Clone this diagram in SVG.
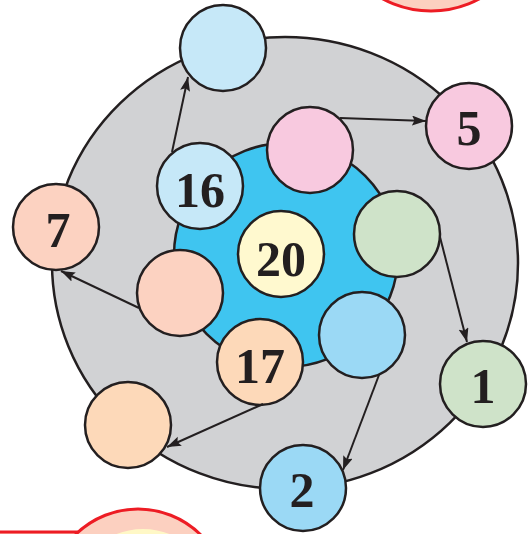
<svg xmlns="http://www.w3.org/2000/svg" width="530" height="534" viewBox="0 0 530 534">
<defs>
<marker id="ah" markerUnits="userSpaceOnUse" markerWidth="15" markerHeight="11" refX="14" refY="5" orient="auto">
<path d="M0,0 L14,5 L0,10 L2.5,5 z" fill="#231f20"/>
</marker>
</defs>
<style>
.n{stroke:#231f20;stroke-width:2.5}
.t{font-family:"Liberation Serif","Times New Roman",serif;font-weight:bold;font-size:50px;fill:#231f20;text-anchor:middle}
.c{stroke:#231f20;stroke-width:2;fill:none;marker-end:url(#ah)}
.r{fill:#fcd0c0;stroke:#ed1c24;stroke-width:3}
</style>
<rect width="530" height="534" fill="#ffffff"/>
<g id="decor">
<circle class="r" cx="431" cy="-91" r="102"/>
<rect class="r" x="-10" y="532" width="200" height="20"/>
<circle class="r" cx="138" cy="598" r="89"/>
<circle cx="143" cy="601" r="72" fill="#fff8c6"/>
</g>
<g id="outer-ring"><ellipse class="n" cx="285" cy="263" rx="233" ry="226" fill="#d1d2d4"/></g>
<g id="inner-ring"><circle class="n" cx="286" cy="255" r="112" fill="#3fc5f0"/></g>
<g id="n20"><circle class="n" cx="281" cy="254" r="43" fill="#fff9cf"/><text class="t" x="281" y="276">20</text></g>
<g id="n16"><circle class="n" cx="200" cy="186" r="43" fill="#c6e8f8"/><text class="t" x="200" y="207">16</text></g>
<g id="pink-inner"><circle class="n" cx="310" cy="150" r="43" fill="#f8c9df"/></g>
<g id="green-inner"><circle class="n" cx="397" cy="234" r="43" fill="#cfe3c9"/></g>
<g id="blue-inner"><circle class="n" cx="362" cy="335" r="43" fill="#9bd9f5"/></g>
<g id="n17"><circle class="n" cx="260" cy="362" r="43" fill="#fdd9b9"/><text class="t" x="260" y="383">17</text></g>
<g id="salmon-inner"><circle class="n" cx="180" cy="293" r="43" fill="#fcd2c1"/></g>
<g id="top-outer"><circle class="n" cx="223" cy="48" r="43" fill="#c6e8f8"/></g>
<g id="n5"><circle class="n" cx="469" cy="126" r="43" fill="#f8c9df"/><text class="t" x="469" y="145">5</text></g>
<g id="n1"><circle class="n" cx="483" cy="384" r="43" fill="#cfe3c9"/><text class="t" x="483" y="403">1</text></g>
<g id="n2"><circle class="n" cx="303" cy="488" r="43" fill="#9bd9f5"/><text class="t" x="302" y="507">2</text></g>
<g id="peach-outer"><circle class="n" cx="128" cy="425" r="43" fill="#fdd9b9"/></g>
<g id="n7"><circle class="n" cx="56" cy="227" r="43" fill="#fcd2c1"/><text class="t" x="58" y="247">7</text></g>
<g id="connectors">
<line class="c" x1="172" y1="152" x2="188" y2="77"/>
<line class="c" x1="340" y1="118" x2="426" y2="121"/>
<line class="c" x1="440" y1="237" x2="467" y2="342"/>
<line class="c" x1="379" y1="375" x2="343" y2="470"/>
<line class="c" x1="139" y1="308" x2="61" y2="271"/>
<line class="c" x1="263" y1="404" x2="167" y2="447"/>
</g>
</svg>
